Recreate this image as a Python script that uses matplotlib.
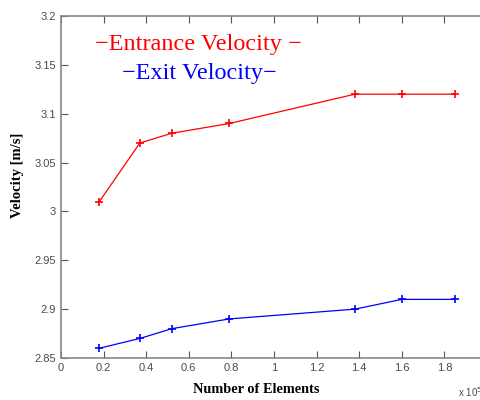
import matplotlib
matplotlib.use('Agg')
import matplotlib.pyplot as plt

# number of elements (x 10^5)
elements = [0.18, 0.37, 0.52, 0.79, 1.38, 1.60, 1.85]
entrance_vel = [3.01, 3.07, 3.08, 3.09, 3.12, 3.12, 3.12]
exit_vel = [2.86, 2.87, 2.88, 2.89, 2.90, 2.91, 2.91]

xticks = [0, 0.2, 0.4, 0.6, 0.8, 1, 1.2, 1.4, 1.6, 1.8]
xticklabels = ['0', '0.2', '0.4', '0.6', '0.8', '1', '1.2', '1.4', '1.6', '1.8']
yticks = [2.85, 2.9, 2.95, 3, 3.05, 3.1, 3.15, 3.2]
yticklabels = ['2.85', '2.9', '2.95', '3', '3.05', '3.1', '3.15', '3.2']

fig = plt.figure(figsize=(4.81, 4.0), dpi=100)
# axes runs a bit past the right edge, like the cropped original
ax = fig.add_axes([61/481, 42/400, 426/481, 342/400])

ax.plot(elements, entrance_vel, color='red', lw=0.9, marker='+', ms=6, mew=1.2)
ax.plot(elements, exit_vel, color='blue', lw=0.9, marker='+', ms=6, mew=1.2)

ax.set_xlim(0, 2)
ax.set_ylim(2.85, 3.2)
ax.set_xticks(xticks)
ax.set_xticklabels(xticklabels)
ax.set_yticks(yticks)
ax.set_yticklabels(yticklabels)

for s in ax.spines.values():
    s.set_color('#888888')
    s.set_linewidth(1.2)
ax.spines['right'].set_visible(False)
ax.tick_params(direction='in', length=5, color='#555555', labelcolor='#4a4a4a',
               labelsize=8, top=True, right=True)
for lab in ax.get_xticklabels() + ax.get_yticklabels():
    lab.set_family('Liberation Sans')

ax.set_xlabel('Number of Elements', family='Liberation Serif', weight='bold',
              fontsize=10.3)
ax.xaxis.set_label_coords(0.458, -0.072)
ax.set_ylabel('Velocity [m/s]', family='Liberation Serif', weight='bold',
              fontsize=10.5)
ax.yaxis.set_label_coords(-0.087, 0.535)

ax.text(0.16, 3.171, '\u2212Entrance Velocity \u2212', color='red',
        family='Liberation Serif', fontsize=17.5, va='center', ha='left')
ax.text(0.286, 3.141, '\u2212Exit Velocity\u2212', color='blue',
        family='Liberation Serif', fontsize=17.5, va='center', ha='left')

fig.text(458/481, 1/400, 'x 10$^5$', color='#4a4a4a', family='Liberation Sans',
         fontsize=7, va='bottom', ha='left')

fig.savefig('out.png', dpi=100)
